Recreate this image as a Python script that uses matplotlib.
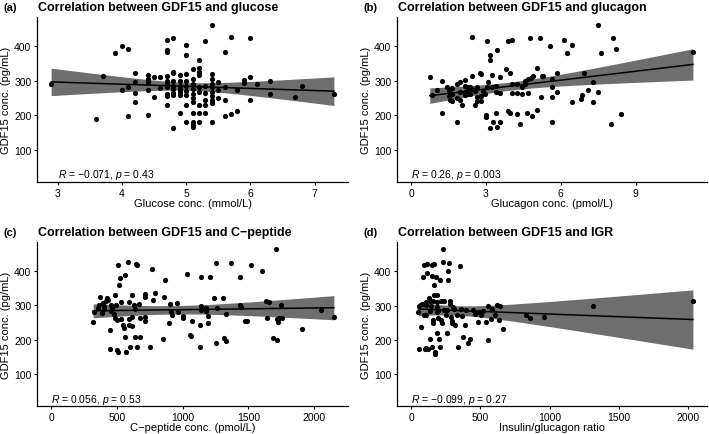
import matplotlib
matplotlib.use("Agg")
import matplotlib.pyplot as plt
import numpy as np

plt.rcParams["font.family"] = ["Liberation Sans", "DejaVu Sans"]
plt.rcParams["mathtext.fontset"] = "custom"
plt.rcParams["mathtext.rm"] = "Liberation Sans"
plt.rcParams["mathtext.it"] = "Liberation Sans:italic"

# GDF15 (pg/mL) against glucose (mmol/L)
glucose_x = [2.9, 3.6, 3.7, 3.9, 4.0, 4.0, 4.1, 4.1, 4.1, 4.2, 4.2, 4.2, 4.2,
             4.4, 4.4, 4.4, 4.4, 4.4, 4.5, 4.5, 4.6, 4.6,
             4.7, 4.7, 4.7, 4.7, 4.7, 4.7, 4.7, 4.7, 4.7, 4.7,
             4.8, 4.8, 4.8, 4.8, 4.8, 4.8, 4.8, 4.8, 4.8,
             4.9, 4.9, 4.9, 4.9, 4.9, 4.9, 4.9,
             5.0, 5.0, 5.0, 5.0, 5.0, 5.0, 5.0, 5.0, 5.0,
             5.1, 5.1, 5.1, 5.1, 5.1, 5.1, 5.1, 5.1, 5.1, 5.1, 5.1,
             5.2, 5.2, 5.2, 5.2, 5.2, 5.2, 5.2, 5.2, 5.2,
             5.3, 5.3, 5.3, 5.3, 5.3, 5.3,
             5.4, 5.4, 5.4, 5.4, 5.4, 5.4, 5.4, 5.4, 5.4, 5.4,
             5.5, 5.5, 5.5, 5.6, 5.6, 5.6, 5.6, 5.7, 5.7, 5.8, 5.8, 5.9, 5.9,
             6.0, 6.0, 6.0, 6.1, 6.3, 6.3, 6.7, 6.8, 7.3]
glucose_y = [290, 190, 313, 380, 398, 272, 390, 280, 198, 323, 296, 265, 238,
             316, 304, 295, 273, 201, 311, 252, 311, 278,
             416, 387, 381, 313, 300, 290, 282, 262, 255, 230,
             422, 325, 321, 300, 285, 275, 265, 258, 163,
             315, 300, 283, 275, 268, 258, 207,
             403, 373, 319, 300, 285, 270, 258, 231, 182,
             333, 304, 290, 275, 262, 250, 237, 207, 181, 172, 166,
             358, 337, 325, 315, 282, 268, 230, 207, 181,
             414, 285, 265, 245, 230, 207,
             461, 318, 305, 290, 280, 268, 255, 245, 235, 181,
             296, 272, 250, 383, 282, 243, 198, 424, 203, 273, 213, 302, 294,
             422, 309, 244, 289, 299, 262, 253, 285, 262]

# GDF15 against glucagon (pmol/L)
glucagon_x = [0.75, 0.85, 1.05, 1.25, 1.25, 1.45, 1.5, 1.5, 1.55, 1.65, 1.65, 1.65,
              1.85, 1.85, 1.85, 1.95, 1.95, 1.95, 2.05, 2.15, 2.15, 2.15, 2.15,
              2.25, 2.25, 2.25, 2.35, 2.35, 2.45, 2.45, 2.45, 2.55, 2.55,
              2.65, 2.65, 2.65, 2.75, 2.8, 2.8, 2.8, 2.9, 2.95, 3.0, 3.0,
              3.05, 3.05, 3.1, 3.15, 3.15, 3.15, 3.25, 3.25, 3.3, 3.4, 3.4, 3.4,
              3.45, 3.45, 3.55, 3.55, 3.55, 3.8, 3.9, 3.9, 3.95, 3.95,
              4.05, 4.05, 4.05, 4.25, 4.25, 4.25, 4.35, 4.45, 4.45, 4.55, 4.55,
              4.7, 4.7, 4.65, 4.75, 4.8, 4.85, 4.9, 5.05, 5.05, 5.15, 5.2,
              5.25, 5.3, 5.55, 5.65, 5.65, 5.65, 5.65, 5.85, 5.85, 6.15, 6.25,
              6.45, 6.45, 6.8, 6.85, 6.95, 7.1, 7.3, 7.3, 7.5, 7.5, 7.6,
              8.0, 8.1, 8.2, 8.4, 11.3]
glucagon_y = [310, 259, 273, 299, 206, 280, 270, 255, 245, 262, 278, 240,
              290, 250, 181, 295, 268, 245, 229, 302, 285, 268, 258,
              282, 270, 262, 280, 262, 424, 312, 275, 270, 229,
              280, 254, 240, 323, 318, 255, 240, 270, 260, 200, 194,
              414, 280, 296, 373, 358, 164, 315, 280, 181, 285, 268, 206,
              388, 166, 310, 265, 181, 333, 414, 212, 207, 321,
              417, 290, 265, 290, 265, 203, 174, 280, 262, 300, 290,
              305, 265, 207, 422, 308, 198, 312, 337, 214, 422, 254,
              312, 314, 399, 304, 280, 254, 181, 321, 267, 417, 379,
              403, 237, 248, 258, 323, 273, 296, 237, 461, 267, 379,
              174, 422, 392, 203, 383]

# GDF15 against C-peptide (pmol/L)
cpep_x = [320, 328, 355, 363, 374, 386, 395, 400, 405, 420, 425, 430, 445, 450,
          455, 458, 462, 475, 482, 488, 490, 500, 508, 513, 500, 508, 526, 531,
          531, 546, 551, 564, 564, 572, 585, 590, 590, 590, 597, 615, 615, 615,
          628, 635, 640, 648, 650, 653, 666, 672, 674, 710, 717, 710, 712, 755,
          767, 775, 793, 851, 856, 864, 895, 903, 912, 920, 958, 963, 1004, 1006,
          1034, 1055, 1062, 1072, 1131, 1131, 1136, 1140, 1136, 1174, 1176, 1192,
          1194, 1207, 1238, 1250, 1255, 1263, 1309, 1314, 1327, 1327, 1365, 1436,
          1440, 1446, 1474, 1487, 1517, 1606, 1631, 1644, 1657, 1690, 1708, 1715,
          1720, 1725, 1733, 1746, 1759, 1906, 2050, 2150]
cpep_y = [252, 281, 291, 300, 325, 277, 308, 298, 290, 312, 320, 316, 175, 228,
          300, 283, 293, 275, 262, 330, 300, 257, 416, 358, 170, 164, 378, 310,
          260, 243, 233, 387, 209, 166, 426, 310, 260, 243, 180, 330, 265, 240,
          300, 290, 209, 421, 416, 180, 305, 262, 209, 334, 325, 265, 256, 180,
          405, 315, 337, 202, 325, 373, 248, 305, 282, 272, 308, 281, 270, 263,
          392, 214, 212, 254, 243, 180, 288, 297, 383, 292, 283, 268,
          250, 383, 322, 424, 192, 291, 322, 206, 198, 275, 424, 383,
          300, 295, 256, 256, 416, 399, 312, 262, 310, 204, 462, 260,
          200, 252, 264, 301, 264, 231, 286, 267]

# GDF15 against insulin/glucagon ratio
igr_x = [53, 58, 60, 72, 77, 89, 96, 96, 101, 106, 106, 106, 106, 113, 115, 125,
         130, 137, 144, 137, 137, 149, 149, 154, 161, 161, 161, 163, 168, 168,
         173, 173, 180, 185, 185, 185, 185, 190, 197, 197, 202, 209, 209, 216,
         216, 221, 228, 233, 240, 240, 250, 257, 257, 264, 269, 274, 281, 281,
         288, 293, 297, 305, 312, 317, 329, 337, 353, 361, 370, 377, 389, 397,
         409, 425, 450, 462, 481, 490, 505, 522, 538, 558, 558, 577, 582, 606,
         618, 635, 642, 666, 827, 858, 959, 1313, 2036]
igr_y = [281, 299, 173, 238, 306, 383, 418, 272, 175, 178, 310, 302, 272, 395, 420, 175,
         322, 312, 298, 285, 204, 418, 180, 385, 312, 258, 248, 359, 421, 330,
         165, 160, 383, 310, 296, 281, 220, 332, 284, 263, 204, 373, 180, 312,
         258, 248, 463, 426, 312, 288, 272, 288, 220, 373, 399, 424, 312, 305,
         267, 254, 250, 296, 291, 243, 272, 180, 416, 291, 270, 209, 243, 286,
         190, 204, 287, 275, 252, 282, 272, 284, 252, 299, 200, 262, 289, 272,
         302, 257, 299, 231, 272, 263, 266, 300, 312]

panel_tags = ["(a)", "(b)", "(c)", "(d)"]
titles = ["Correlation between GDF15 and glucose",
          "Correlation between GDF15 and glucagon",
          "Correlation between GDF15 and C\u2212peptide",
          "Correlation between GDF15 and IGR"]
xlabels = ["Glucose conc. (mmol/L)", "Glucagon conc. (pmol/L)",
           "C\u2212peptide conc. (pmol/L)", "Insulin/glucagon ratio"]
stats_text = ["$\\it{R}$ = \u22120.071, $\\it{p}$ = 0.43",
              "$\\it{R}$ = 0.26, $\\it{p}$ = 0.003",
              "$\\it{R}$ = 0.056, $\\it{p}$ = 0.53",
              "$\\it{R}$ = \u22120.099, $\\it{p}$ = 0.27"]
label_x = [3, 0, 0, 0]
label_y = 30
xticks = [[3, 4, 5, 6, 7], [0, 3, 6, 9], [0, 500, 1000, 1500, 2000], [0, 500, 1000, 1500, 2000]]
yticks = [100, 200, 300, 400]

xs = [glucose_x, glucagon_x, cpep_x, igr_x]
ys = [glucose_y, glucagon_y, cpep_y, igr_y]

W, H = 709, 435
# axes boxes in pixels: left, top, right, bottom
boxes = [(37, 18, 348, 183), (397, 18, 707, 183),
         (37, 243, 348, 407), (397, 243, 707, 407)]

fig = plt.figure(figsize=(W / 100, H / 100), dpi=100)


def add_fit(ax, x, y):
    # linear fit with 95% confidence band, like geom_smooth(method="lm")
    x = np.asarray(x, float)
    y = np.asarray(y, float)
    n = len(x)
    b, a = np.polyfit(x, y, 1)
    resid = y - (a + b * x)
    s = np.sqrt(np.sum(resid ** 2) / (n - 2))
    xx = np.linspace(x.min(), x.max(), 80)
    yy = a + b * xx
    se = s * np.sqrt(1 / n + (xx - x.mean()) ** 2 / np.sum((x - x.mean()) ** 2))
    ax.fill_between(xx, yy - 1.98 * se, yy + 1.98 * se, color="#6e6e6e", lw=0, zorder=1)
    ax.plot(xx, yy, color="black", lw=1.1, zorder=3)


for i in range(4):
    l, t, r, bt = boxes[i]
    ax = fig.add_axes([l / W, 1 - bt / H, (r - l) / W, (bt - t) / H])
    x = np.asarray(xs[i], float)
    y = np.asarray(ys[i], float)

    add_fit(ax, x, y)
    ax.scatter(x, y, s=14, color="black", lw=0, zorder=2)
    ax.text(label_x[i], label_y, stats_text[i], fontsize=7.5, ha="left", va="center")

    xlo = min(x.min(), label_x[i])
    xhi = x.max()
    ylo = min(y.min(), label_y)
    yhi = y.max()
    ax.set_xlim(xlo - 0.05 * (xhi - xlo), xhi + 0.05 * (xhi - xlo))
    ax.set_ylim(ylo - 0.05 * (yhi - ylo), yhi + 0.05 * (yhi - ylo))
    ax.set_xticks(xticks[i])
    ax.set_yticks(yticks)

    for side in ["top", "right"]:
        ax.spines[side].set_visible(False)
    for side in ["left", "bottom"]:
        ax.spines[side].set_linewidth(0.9)
    ax.tick_params(length=2.5, width=0.8, labelsize=7.5, pad=1.5, colors="black")
    ax.set_xlabel(xlabels[i], fontsize=8, labelpad=0)
    ax.set_ylabel("GDF15 conc. (pg/mL)", fontsize=8, labelpad=2)

    fig.text((l - 34) / W, 1 - (t - 10) / H, panel_tags[i], fontsize=8,
             fontweight="bold", ha="left", va="center")
    fig.text((l + 1) / W, 1 - (t - 10) / H, titles[i], fontsize=9,
             fontweight="bold", ha="left", va="center")

fig.savefig("out.png", dpi=100)
